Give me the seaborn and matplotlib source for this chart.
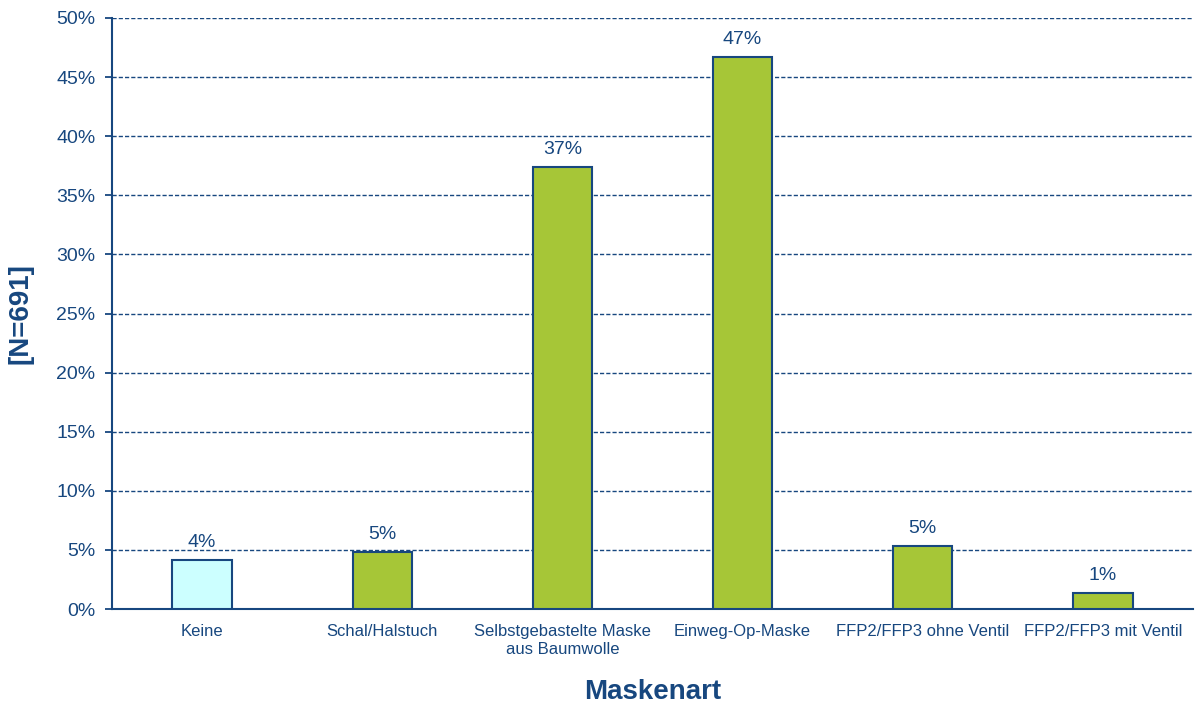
import matplotlib
matplotlib.use("Agg")
import matplotlib.pyplot as plt
import seaborn as sns
import pandas as pd
import numpy as np

categories = ["Keine", "Schal/Halstuch", "Selbstgebastelte Maske\naus Baumwolle",
              "Einweg-Op-Maske", "FFP2/FFP3 ohne Ventil", "FFP2/FFP3 mit Ventil"]
values = [4.15, 4.8, 37.4, 46.7, 5.3, 1.35]
labels = ["4%", "5%", "37%", "47%", "5%", "1%"]
groups = ["none", "mask", "mask", "mask", "mask", "mask"]

BLUE = "#17477F"
GREEN = "#A6C637"
CYAN = "#CCFFFF"

sns.set_theme(style="white")
plt.rcParams["font.family"] = ["Liberation Sans", "DejaVu Sans"]

df = pd.DataFrame({"cat": categories, "val": values, "grp": groups})

fig = plt.figure(figsize=(11.95, 7.06), dpi=100)
ax = fig.add_axes([112/1195, 1 - 609/706, (1193-112)/1195, (609-18)/706])

sns.barplot(data=df, x="cat", y="val", hue="grp", palette={"none": CYAN, "mask": GREEN},
            width=0.33, dodge=False, saturation=1, edgecolor=BLUE, linewidth=1.5,
            legend=False, ax=ax, zorder=3)

for i, (v, t) in enumerate(zip(values, labels)):
    ax.annotate(t, (i, v), xytext=(0, 6.5), textcoords="offset points",
                ha="center", va="bottom", fontsize=14, color=BLUE)

ax.set_ylim(0, 50)
ax.set_xlim(-0.5, len(categories) - 0.5)
ax.set_yticks(np.arange(0, 51, 5))
ax.set_yticklabels([f"{t}%" for t in range(0, 51, 5)], fontsize=14, color=BLUE)
ax.set_xticks(range(len(categories)))
ax.set_xticklabels(categories, fontsize=12, color=BLUE)
ax.set_xticks(np.arange(-0.5, len(categories), 1), minor=True)
ax.tick_params(axis="x", which="major", length=0, pad=11)
ax.tick_params(axis="x", which="minor", length=5, width=1.3, color=BLUE, direction="out")
ax.tick_params(axis="y", which="major", length=5, width=1.3, color=BLUE, direction="out", pad=7,
               left=True)

ax.grid(axis="y", linestyle=(0, (3, 1.5)), color=BLUE, linewidth=1.0, zorder=0)
ax.set_axisbelow(True)

for s in ["top", "right"]:
    ax.spines[s].set_visible(False)
for s in ["left", "bottom"]:
    ax.spines[s].set_color(BLUE)
    ax.spines[s].set_linewidth(1.5)

ax.set_xlabel("Maskenart", fontsize=20, fontweight="bold", color=BLUE, labelpad=16)
ax.set_ylabel("[N=691]", fontsize=20, fontweight="bold", color=BLUE, labelpad=16)

fig.savefig("out.png", dpi=100)
